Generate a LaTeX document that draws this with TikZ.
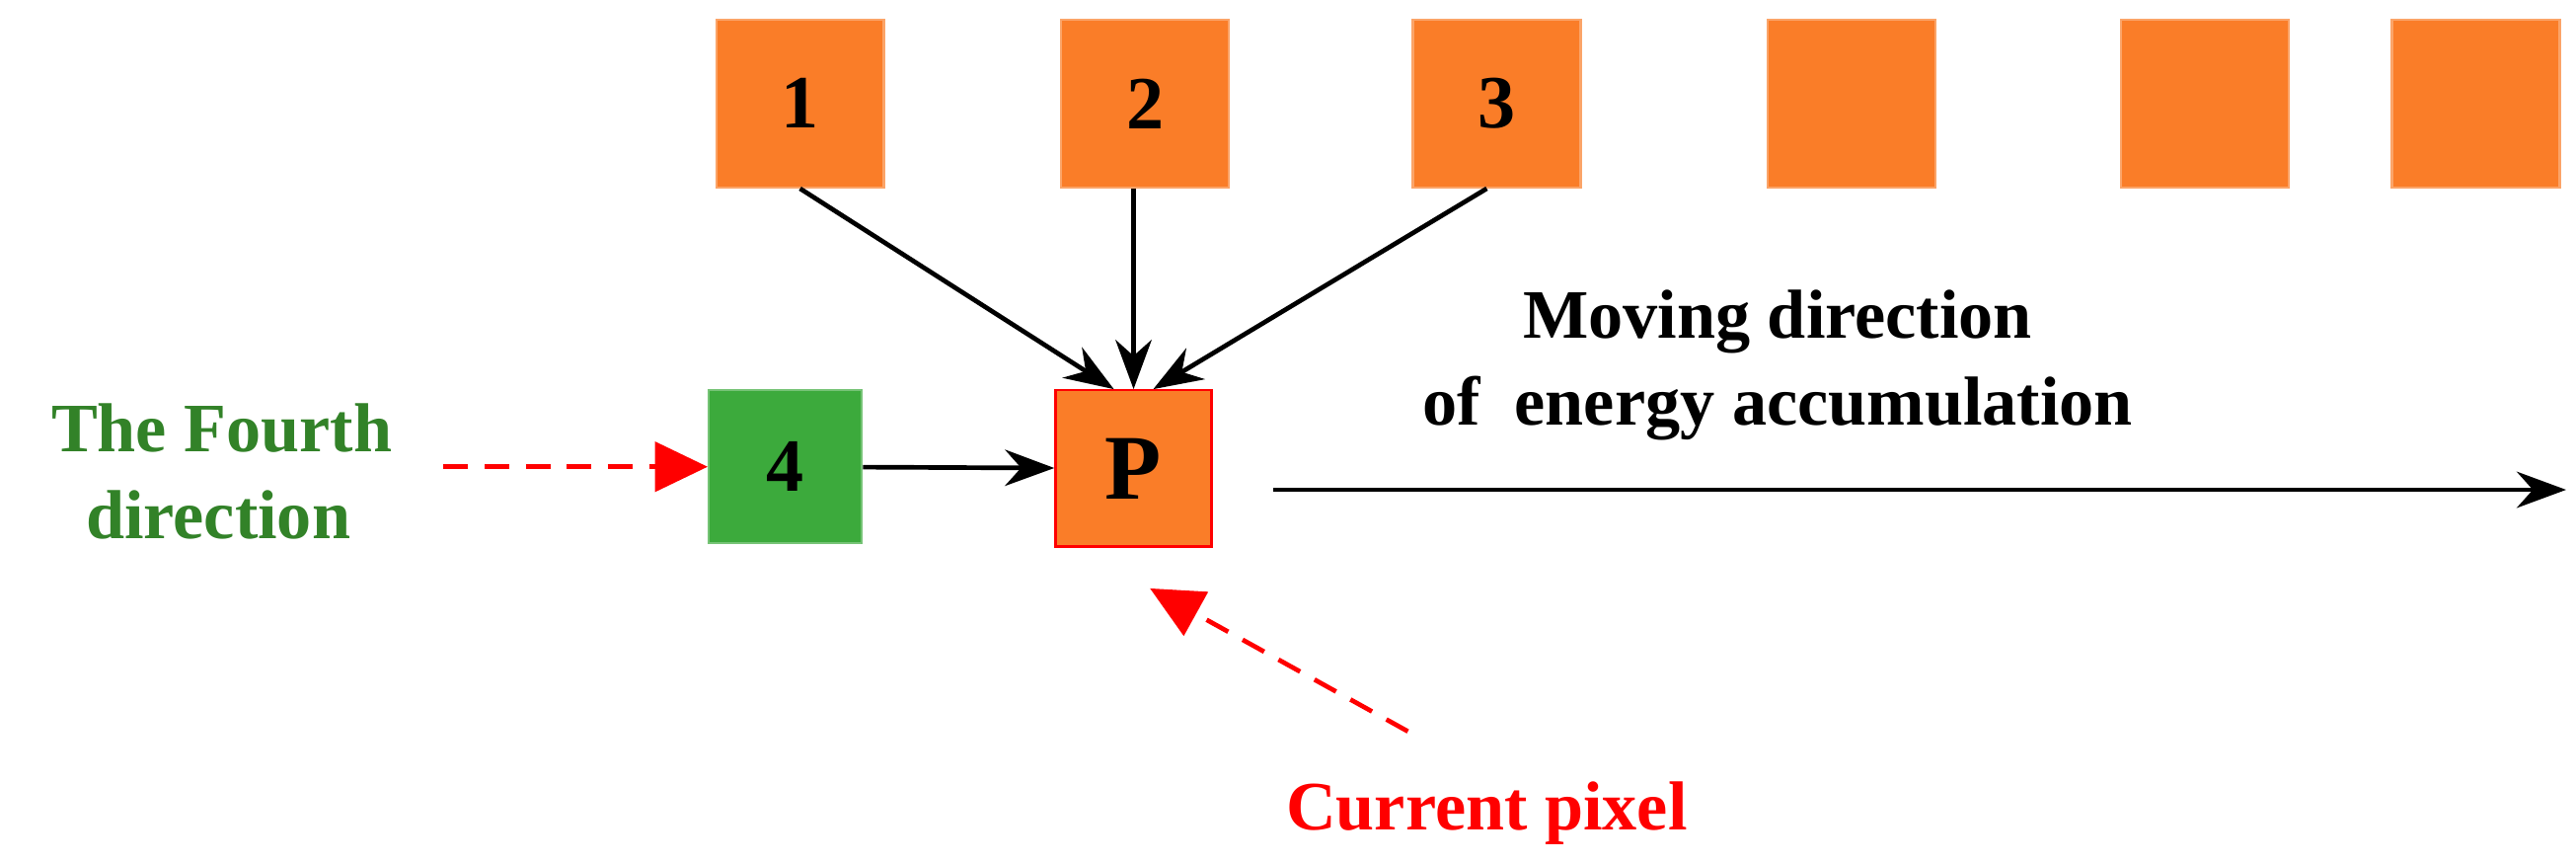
\documentclass[tikz,border=0pt]{standalone}
\usepackage{fontspec}
\setmainfont{Liberation Serif}
\usetikzlibrary{arrows.meta}
\definecolor{pixorange}{RGB}{250,125,40}
\definecolor{pixgreen}{RGB}{60,170,60}
\definecolor{txtgreen}{RGB}{50,130,40}
\tikzset{
  pix/.style={draw=pixorange!70!white, fill=pixorange, minimum size=1.02cm, inner sep=0pt,
    font=\fontsize{13}{16}\selectfont\bfseries},
  arr/.style={-{Stealth[length=0.3cm,width=0.22cm]}, thick},
  redarr/.style={-{Triangle[length=0.32cm,width=0.3cm]}, red, thick, dash pattern=on 0.15cm off 0.1cm},
  lbl/.style={font=\fontsize{12}{15}\selectfont\bfseries, align=center}
}
\begin{document}
\begin{tikzpicture}[x=0.01cm,y=-0.01cm]
    \useasboundingbox (0,0) rectangle (1568,524.5);
    % Pixel
    \node[pix] (s1) at (487,63) {1};
    \node[pix] (s2) at (697,63) {2};
    \node[pix] (s3) at (911,63) {3};
    \foreach \x/\n in {1127/s4,1342/s5,1507/s6}
    	\node[pix] (\n) at (\x,63) {};
    \node[pix, draw=red, minimum size=0.95cm, font=\fontsize{16}{19}\selectfont\bfseries] (p) at (690,285) {P};
    \node[pix, fill=pixgreen, draw=pixgreen!70!white, minimum size=0.93cm] (g4) at (478,284) {4};
    % Pfeile
    \draw[arr] (s1.south) -- ([xshift=-0.12cm]p.north);
    \draw[arr] (s2.south -| p.north) -- (p.north);
    \draw[arr] ([xshift=-0.06cm]s3.south) -- ([xshift=0.12cm]p.north);
    \draw[arr] (g4) -- (p);
    \coordinate (ms) at (775,298);
    \coordinate (me) at (1562,298);
    \draw[arr] (ms) -- (me);
    % Beschriftung
    \node[lbl] (mv) at (1082,222) {Moving direction\\of\ \ energy accumulation};
    \node[lbl, text=txtgreen, align=left] (fd) at (135,287) {The Fourth\\\ \ direction};
    \node[lbl, text=red] (cp) at (905,495) {Current pixel};
    \coordinate (fs) at (270,284);
    \coordinate (cs) at (857,445);
    \draw[redarr] (fs) -- (g4);
    \draw[redarr] (cs) -- (700,358);
\end{tikzpicture}
\end{document}
